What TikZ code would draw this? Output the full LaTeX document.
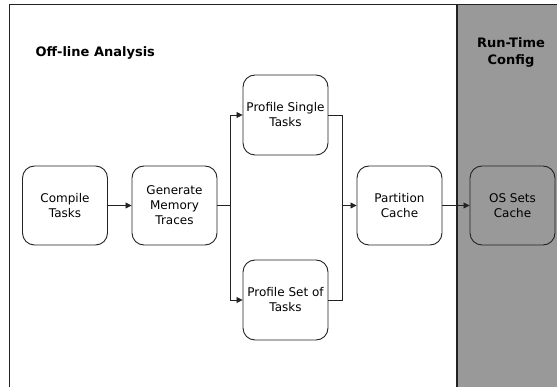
\documentclass[tikz,border=0pt]{standalone}
\usepackage{xcolor}
\usepackage{fontspec}
\setmainfont{DejaVu Sans}
\usetikzlibrary{positioning, arrows.meta}
\definecolor{rtgray}{HTML}{999999}
\definecolor{linegray}{HTML}{222222}

\begin{document}
\begin{tikzpicture}[x=1pt, y=-1pt,
    box/.style={draw=linegray, line width=0.9pt, rounded corners=12pt, fill=white,
                minimum width=85pt, minimum height=79pt, inner sep=1pt,
                align=center, font=\fontsize{12}{15}\selectfont},
    flow/.style={draw=linegray, line width=0.8pt},
    arr/.style={flow, -{Triangle[length=6pt, width=6pt]}},
    title/.style={font=\fontsize{13}{17}\selectfont\bfseries}]
    \useasboundingbox (0,0) rectangle (557,387);

    % run-time panel and frame
    \fill[rtgray] (457,4) rectangle (560,390);
    \draw[linegray, line width=0.8pt] (9.5,390) -- (9.5,4) -- (560,4);
    \draw[linegray, line width=1.4pt] (457,4) -- (457,390);

    \node[title, anchor=west] (offline) at (32,53) {Off-line Analysis};
    \node[title, align=center] (runtime) at (511,52) {Run-Time\\Config};

    % steps
    \node[box] (compile) at (65,205.5) {Compile\\Tasks};
    \node[box] (generate) at (174.5,205.5) {Generate\\Memory\\Traces};
    \node[box, minimum height=80pt] (single) at (285.5,115) {Profile Single\\Tasks};
    \node[box, minimum height=80pt] (setof) at (285.5,300) {Profile Set of\\Tasks};
    \node[box] (partition) at (399.5,205.5) {Partition\\Cache};
    \node[box, fill=rtgray] (ossets) at (512.5,205.5) {OS Sets\\Cache};

    \coordinate (split) at (230,205.5);
    \coordinate (join) at (342,205.5);

    \draw[arr] (compile) -- (generate);
    \draw[flow] (generate) -- (split);
    \draw[arr] (split) |- (single.west);
    \draw[arr] (split) |- (setof.west);
    \draw[flow] (single.east) -| (join);
    \draw[flow] (setof.east) -| (join);
    \draw[arr] (join) -- (partition);
    \draw[arr] (partition) -- (ossets);
\end{tikzpicture}
\end{document}
